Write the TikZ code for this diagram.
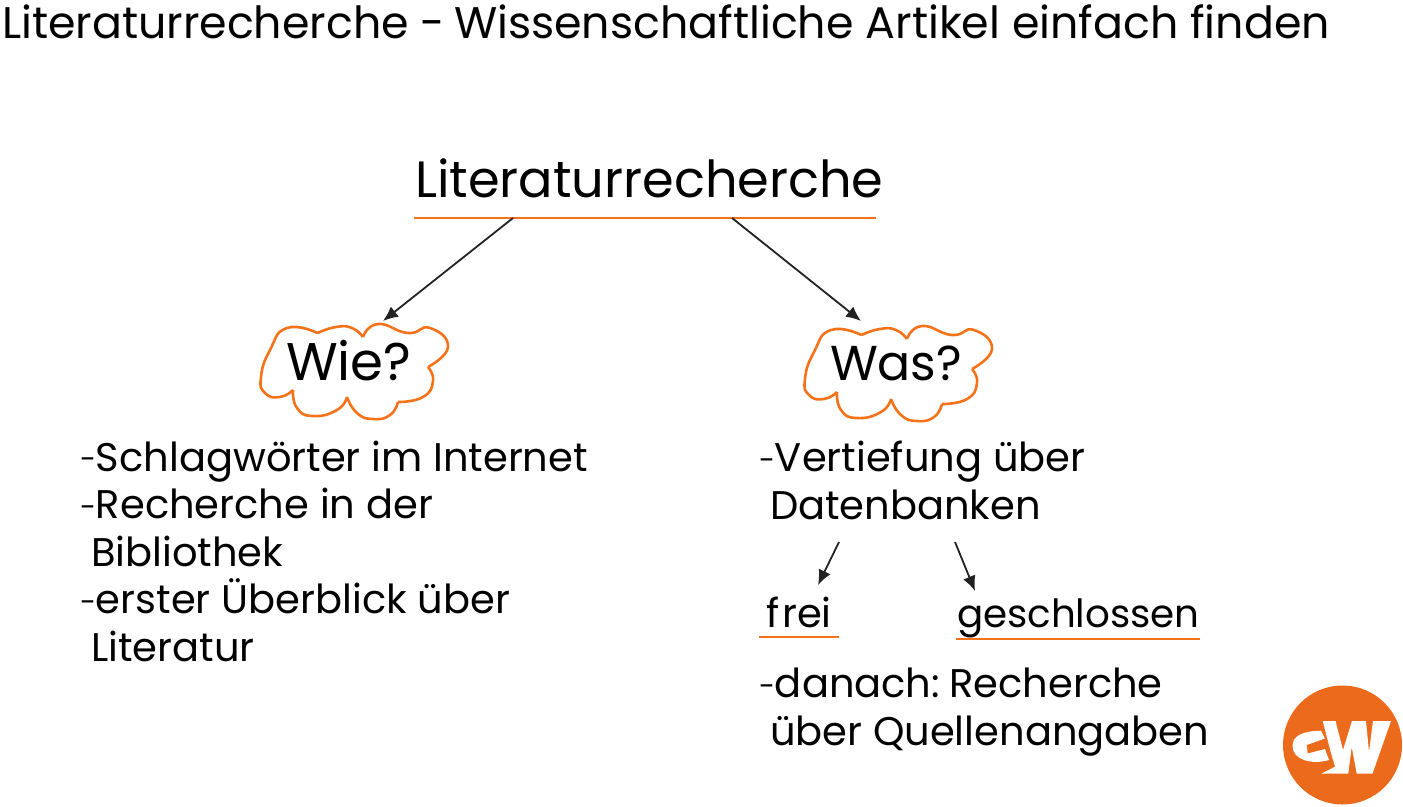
\documentclass[tikz,border=0pt]{standalone}
\usepackage{fontspec}
\setmainfont{Poppins}
\usepackage{xcolor}
\usetikzlibrary{positioning, arrows.meta, calc}
\definecolor{gworange}{HTML}{EC6A1C}
\definecolor{gwline}{HTML}{F4731A}
\definecolor{gwdark}{HTML}{222222}
\tikzset{
  txt/.style={inner sep=0pt, outer sep=0pt, anchor=base west, align=left, text=black},
  listing/.style={txt, font=\fontsize{40}{47.5}\selectfont},
  head/.style={txt, font=\fontsize{51}{56}\selectfont},
  strich/.style={draw=gwline, line width=2.2pt},
  arr/.style={-{Latex[length=15pt, width=13pt]}, draw=gwdark, line width=1.8pt},
  wolke/.style={draw=gwline, line width=2.6pt, line join=round},
  wolkebox/.style={inner sep=0pt, outer sep=0pt, minimum width=187pt, minimum height=95pt},
}
\newcommand{\hy}{\raisebox{1.5pt}{\fontsize{29}{29}\selectfont -}}
\newcommand{\cloudshape}{%
  plot[smooth, tension=0.9] coordinates {(-36.5,-38) (-18,-44) (-2,-43) (9,-34)}
  plot[smooth, tension=0.9] coordinates {(9,-34) (24,-47) (54,-38) (76,-43) (94,-24) (74,-4)}
  plot[smooth, tension=0.9] coordinates {(74,-4) (79,10) (69,26) (44,31)}
  plot[smooth, tension=0.9] coordinates {(44,31) (36,44) (19,48) (3,42) (-7,26)}
  plot[smooth, tension=0.9] coordinates {(-7,26) (-17,39) (-41,45) (-57,37) (-61,19)}
  plot[smooth, tension=0.9] coordinates {(-61,19) (-74,26) (-89,22) (-93,6) (-84,-21) (-67,-43) (-36.5,-38)}
}

\begin{document}
\begin{tikzpicture}[x=1pt, y=-1pt]
  \useasboundingbox (0,0) rectangle (1403,806);

  \node[txt, font=\fontsize{44.3}{48}\selectfont] (titel) at (2,38) {Literaturrecherche -\kern-3pt{} Wissenschaftliche Artikel einfach finden};
  \node[head] (haupt) at (415,197) {Literaturrecherche};
  \draw[strich] (414,218) coordinate (hauptl) -- (876,218) coordinate (hauptr);
  \coordinate (hauptlinks) at (513,218);
  \coordinate (hauptrechts) at (732,218);

  % Wolken
  \node[wolkebox] (wie) at (354,371) {};
  \node[wolkebox] (was) at (898,373) {};
  \draw[wolke, shift={(wie.center)}] \cloudshape;
  \draw[wolke, shift={(was.center)}] \cloudshape;
  \node[head, font=\fontsize{53}{56}\selectfont] (wietxt) at (286,380) {Wie?};
  \node[head, font=\fontsize{49}{56}\selectfont] (wastxt) at (830,380) {Was?};
  \coordinate (wiespitze) at (383,321);
  \coordinate (wasspitze) at (861,321);
  \draw[arr] (hauptlinks) -- (wiespitze);
  \draw[arr] (hauptrechts) -- (wasspitze);

  \node[listing] (wieliste) at (80,661) {\hy Schlagwörter im Internet\\\hy Recherche in der\\\hspace*{11pt}Bibliothek\\\hy erster Überblick über\\\hspace*{11pt}Literatur};
  \node[listing] (wasliste) at (759,519) {\hy Vertiefung über\\\hspace*{11pt}Datenbanken};
  \node[listing] (frei) at (766,627) {f\kern3pt rei};
  \node[listing, font=\fontsize{38.8}{47.5}\selectfont] (geschlossen) at (957,627) {geschlossen};
  \draw[strich] (759,637) coordinate (freil) -- (839,637) coordinate (freir);
  \draw[strich] (956,639) coordinate (geschl) -- (1200,639) coordinate (geschr);
  \coordinate (dblinks) at (839,542);
  \coordinate (dbrechts) at (955,542);
  \coordinate (freispitze) at (818,585);
  \coordinate (geschlspitze) at (975,591);
  \draw[arr] (dblinks) -- (freispitze);
  \draw[arr] (dbrechts) -- (geschlspitze);
  \node[listing] (danach) at (759,745) {\hy danach:\kern-5pt{} Recherche\\\hspace*{11pt}über Quellenangaben};

  % Logo
  \node[circle, fill=gworange, minimum size=119pt, inner sep=0pt] (logo) at (1342.5,745) {};
  \fill[white] (1322.7,721) -- (1335.5,721) -- (1343,750) -- (1352,721) -- (1366,721) -- (1369,752) -- (1373,721) -- (1391,721) -- (1372.5,773.5) -- (1356.7,773.5) -- (1351.7,747) -- (1348.3,773.5) -- (1321.7,773.5) -- (1335,766.7) -- (1331,753) -- cycle;
  \fill[white] (1321,730.7) .. controls (1302,731) and (1292.5,736) .. (1292.5,746) .. controls (1292.5,760) and (1312,765) .. (1329,760) -- (1325,749) -- (1307.7,753.5) -- (1306.7,745) -- (1325,738.5) -- cycle;
\end{tikzpicture}
\end{document}
